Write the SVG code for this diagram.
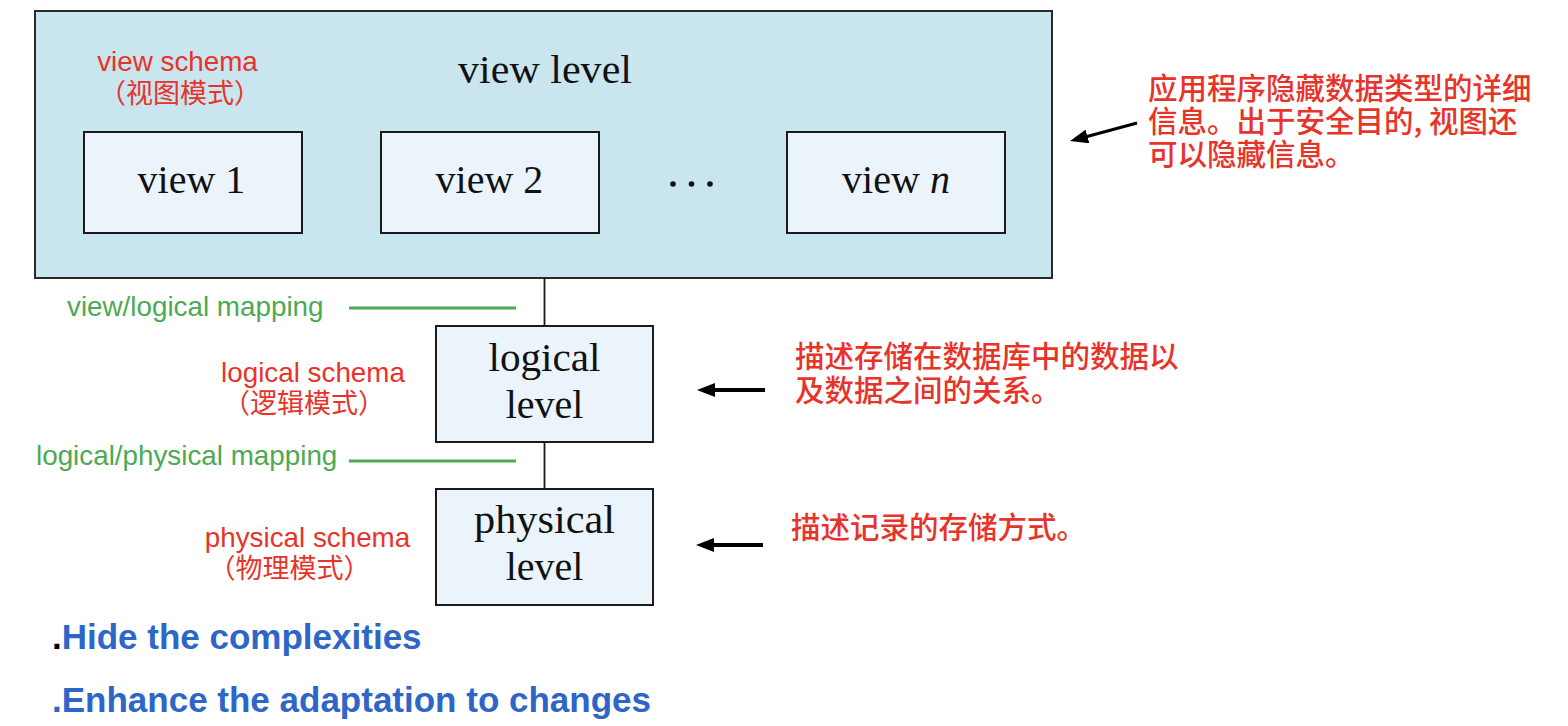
<svg xmlns="http://www.w3.org/2000/svg" width="1568" height="726" viewBox="0 0 1568 726">
<defs>
<style>
.outer{fill:#c9e6ef;stroke:#2a2a2a;stroke-width:2}
.box{fill:#eaf4fa;stroke:#1a1a1a;stroke-width:2}
.serif{font-family:"Liberation Serif","Times New Roman",serif;font-size:40px;fill:#111}
.red{font-family:"Liberation Sans",Arial,"Noto Sans CJK SC",sans-serif;font-size:27.8px;fill:#e8332a}
.redcjk{font-family:"Noto Sans CJK SC","Liberation Sans",sans-serif;font-size:27px;fill:#e8332a}
.note{font-family:"Noto Sans CJK SC","Liberation Sans",sans-serif;font-size:29.5px;font-weight:500;fill:#e8332a}
.green{font-family:"Liberation Sans",Arial,sans-serif;font-size:27.8px;fill:#4caa52}
.blue{font-family:"Liberation Sans",Arial,sans-serif;font-size:35px;font-weight:bold;fill:#2e66c8}
.vline{stroke:#1a1a1a;stroke-width:1.8}
.gline{stroke:#4caa52;stroke-width:3}
.arrow{stroke:#000;stroke-width:4;marker-end:url(#ah)}
</style>
<marker id="ah" markerUnits="userSpaceOnUse" markerWidth="18" markerHeight="14" viewBox="0 0 18 14" refX="8" refY="7" orient="auto">
<path d="M0,0 L18,7 L0,14 z" fill="#000"/>
</marker>
</defs>

<g id="view-level">
<rect class="outer" x="35" y="11" width="1017" height="267"/>
<text class="serif" x="545" y="83" text-anchor="middle" textLength="174" lengthAdjust="spacingAndGlyphs">view level</text>
<text class="red" x="177.5" y="71" text-anchor="middle">view schema</text>
<text class="redcjk" x="180" y="103" text-anchor="middle">（视图模式）</text>
</g>
<g id="view1">
<rect class="box" x="84" y="132" width="218" height="101"/>
<text class="serif" x="191.5" y="193" text-anchor="middle">view 1</text>
</g>
<g id="view2">
<rect class="box" x="381" y="132" width="218" height="101"/>
<text class="serif" x="489.5" y="193" text-anchor="middle">view 2</text>
</g>
<g id="dots">
<circle cx="673" cy="184" r="2.8" fill="#111"/>
<circle cx="691.5" cy="184" r="2.8" fill="#111"/>
<circle cx="710" cy="184" r="2.8" fill="#111"/>
</g>
<g id="viewn">
<rect class="box" x="787" y="132" width="218" height="101"/>
<text class="serif" x="896" y="193" text-anchor="middle">view <tspan font-style="italic">n</tspan></text>
</g>

<g id="logical-level">
<rect class="box" x="436" y="326" width="217" height="116"/>
<text class="serif" x="544.5" y="371" text-anchor="middle" textLength="112" lengthAdjust="spacingAndGlyphs">logical</text>
<text class="serif" x="544.5" y="418" text-anchor="middle">level</text>
</g>
<g id="physical-level">
<rect class="box" x="436" y="489" width="217" height="116"/>
<text class="serif" x="544.5" y="533" text-anchor="middle" textLength="141" lengthAdjust="spacingAndGlyphs">physical</text>
<text class="serif" x="544.5" y="580" text-anchor="middle">level</text>
</g>

<g id="labels">
<text class="green" x="67" y="316">view/logical mapping</text>
<text class="green" x="36" y="465">logical/physical mapping</text>
<text class="red" x="313" y="382" text-anchor="middle">logical schema</text>
<text class="redcjk" x="304" y="413" text-anchor="middle">（逻辑模式）</text>
<text class="red" x="307.5" y="547" text-anchor="middle">physical schema</text>
<text class="redcjk" x="289.5" y="578" text-anchor="middle">（物理模式）</text>
</g>

<g id="notes">
<text class="note"><tspan x="1148" y="99">应用程序隐藏数据类型的详细</tspan><tspan x="1148" y="132">信息。出于安全目的, 视图还</tspan><tspan x="1148" y="165">可以隐藏信息。</tspan></text>
<text class="note"><tspan x="795" y="367">描述存储在数据库中的数据以</tspan><tspan x="795" y="401">及数据之间的关系。</tspan></text>
<text class="note" x="791" y="538">描述记录的存储方式。</text>
</g>

<g id="bullets">
<text class="blue" x="52" y="649"><tspan fill="#000">.</tspan>Hide the complexities</text>
<text class="blue" x="52" y="712">.Enhance the adaptation to changes</text>
</g>

<g id="connectors">
<line class="vline" x1="544.5" y1="278" x2="544.5" y2="326"/>
<line class="vline" x1="544.5" y1="442" x2="544.5" y2="489"/>
<line class="gline" x1="349" y1="308" x2="516" y2="308"/>
<line class="gline" x1="349" y1="461" x2="516" y2="461"/>
<line class="arrow" x1="1137" y1="123" x2="1079.7" y2="138.5" style="stroke-width:3"/>
<line class="arrow" x1="765" y1="390" x2="707" y2="390"/>
<line class="arrow" x1="763" y1="545" x2="706" y2="545"/>
</g>
</svg>
